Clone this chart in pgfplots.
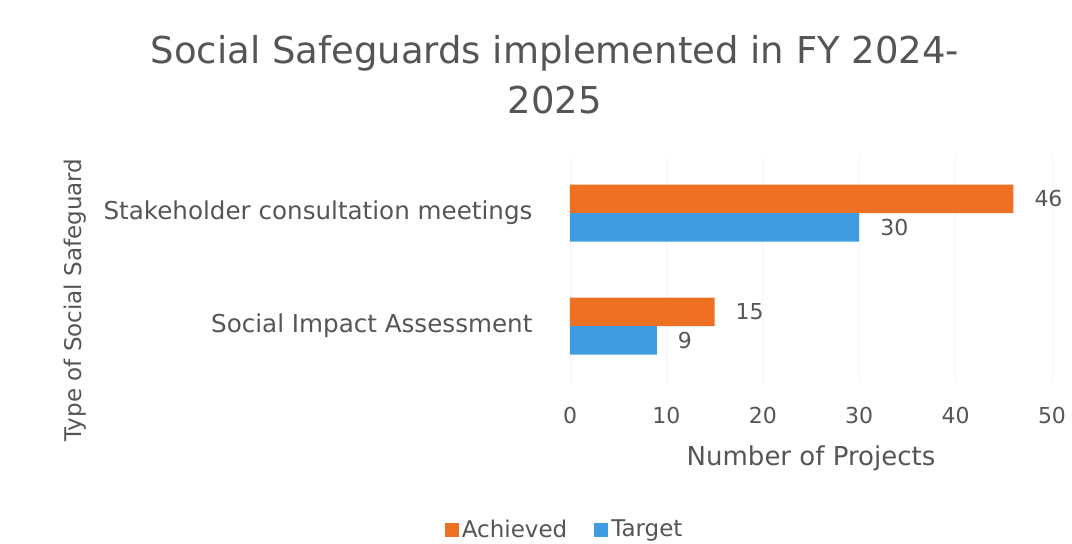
\documentclass[border=0pt]{standalone}
\usepackage{fontspec}
\setmainfont{DejaVu Sans}
\usepackage{pgfplots}
\pgfplotsset{compat=1.18}

\definecolor{achieved}{RGB}{238,112,34}
\definecolor{target}{RGB}{64,156,224}
\definecolor{txt}{RGB}{85,85,85}

\begin{document}
\begin{tikzpicture}
\path[use as bounding box] (0,0) rectangle (536pt,271.5pt);

\begin{axis}[
    at={(285pt,80.25pt)}, anchor=south west,
    scale only axis,
    width=241pt, height=113pt,
    xbar, bar width=14.25pt,
    xmin=0, xmax=50, ymin=-0.5, ymax=1.5,
    enlargelimits=false,
    xtick={0,10,...,50},
    ytick={0,1},
    yticklabels={Social Impact Assessment, Stakeholder consultation meetings},
    axis line style={draw=none},
    tick style={draw=none},
    xmajorgrids, ymajorgrids=false,
    grid style={black!4},
    tick label style={font=\fontsize{11}{13}\selectfont, text=txt},
    yticklabel style={font=\fontsize{12.3}{14}\selectfont, xshift=-11pt},
    /pgf/number format/assume math mode=true,
    xticklabel style={yshift=-9pt},
    nodes near coords,
    nodes near coords style={font=\fontsize{11}{13}\selectfont, text=txt, anchor=west, xshift=7pt},
    legend style={at={(-0.01,-0.653)}, anchor=center, draw=none, fill=none,
        legend columns=2, font=\fontsize{11.5}{13}\selectfont, text=txt,
        nodes={inner xsep=1.5pt},
        /tikz/every even column/.append style={column sep=12pt}},
    legend image code/.code={\fill[#1] (0pt,-3.5pt) rectangle (7pt,3.5pt);},
]
\addplot[draw=none, fill=achieved, bar shift=7.125pt] coordinates {(46,1) (15,0)};
\addlegendentry{Achieved}
\addplot[draw=none, fill=target, bar shift=-7.125pt] coordinates {(30,1) (9,0)};
\addlegendentry{Target}
\end{axis}

\node[font=\fontsize{18.5}{25}\selectfont, text=txt, align=center] at (277.5pt,234pt)
    {Social Safeguards implemented in FY 2024-\\2025};
\node[font=\fontsize{13}{15}\selectfont, text=txt] at (405.5pt,42.5pt) {Number of Projects};
\node[font=\fontsize{11.5}{13}\selectfont, text=txt, rotate=90] at (37.5pt,121.5pt) {Type of Social Safeguard};
\end{tikzpicture}
\end{document}
